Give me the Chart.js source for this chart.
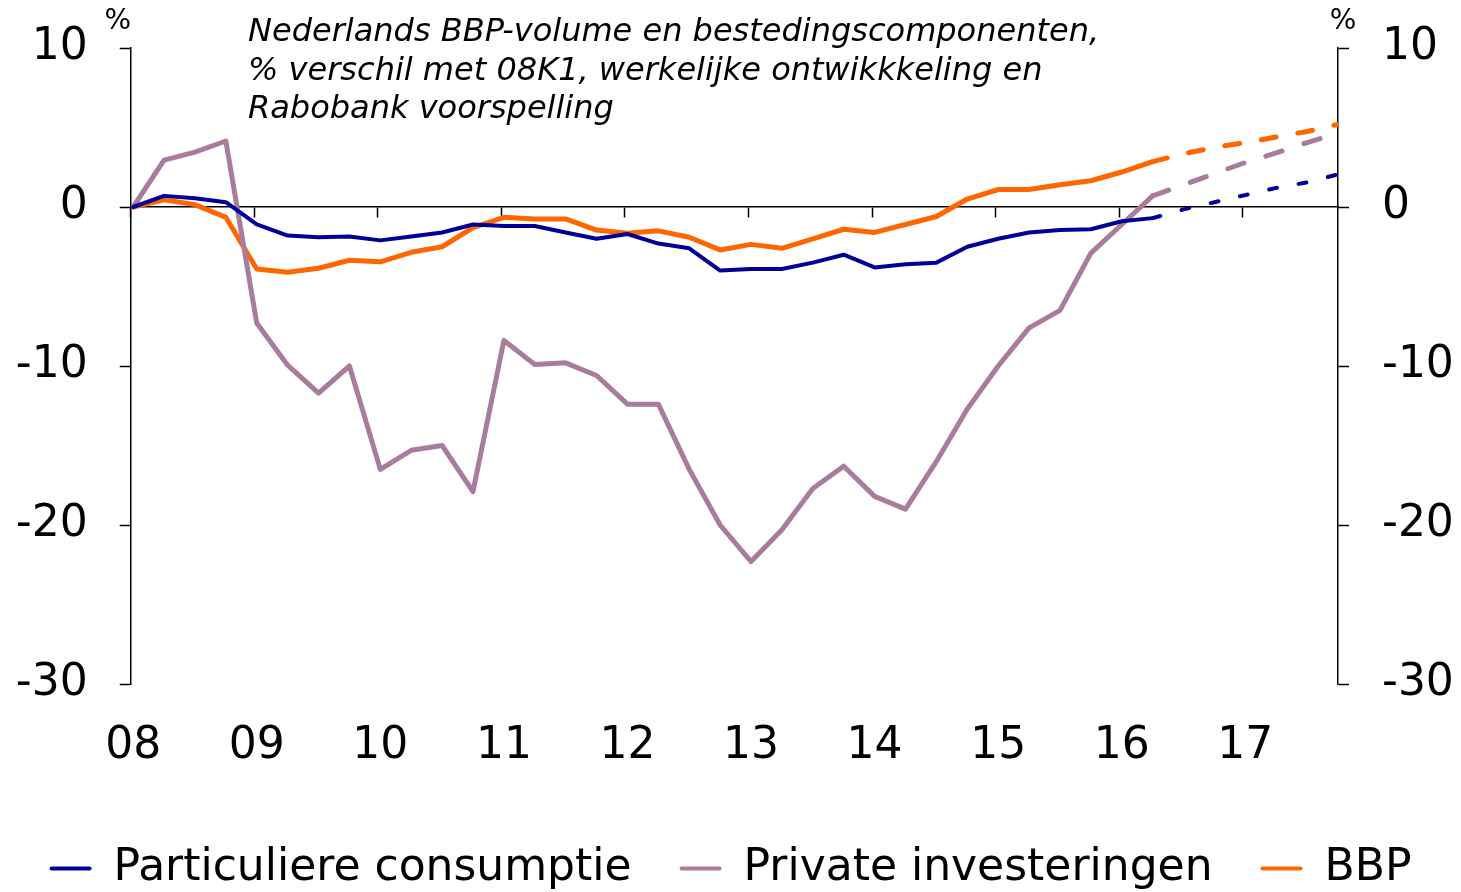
<!DOCTYPE html>
<html>
<head>
<meta charset="utf-8">
<script src="https://cdn.jsdelivr.net/npm/chart.js@4.4.1/dist/chart.umd.min.js"></script>
<style>
  html, body { margin: 0; padding: 0; background: #fff; }
</style>
</head>
<body>
<canvas id="chart" width="1461" height="892"></canvas>
<script>
// quarters 08K1 .. 17K4, actual up to 16K2, Rabobank forecast after that
var quarters = [
  '08K1','08K2','08K3','08K4','09K1','09K2','09K3','09K4',
  '10K1','10K2','10K3','10K4','11K1','11K2','11K3','11K4',
  '12K1','12K2','12K3','12K4','13K1','13K2','13K3','13K4',
  '14K1','14K2','14K3','14K4','15K1','15K2','15K3','15K4',
  '16K1','16K2','16K3','16K4','17K1','17K2','17K3','17K4'
];
var years = ['08','09','10','11','12','13','14','15','16','17'];
var lastActual = '16K2';

var consumptie = [
  0, 0.7, 0.55, 0.3, -1.1, -1.8, -1.9, -1.85,
  -2.1, -1.85, -1.6, -1.1, -1.2, -1.2, -1.6, -2.0,
  -1.7, -2.3, -2.6, -4.0, -3.9, -3.9, -3.5, -3.0,
  -3.8, -3.6, -3.5, -2.5, -2.0, -1.6, -1.45, -1.4,
  -0.9, -0.7, -0.15, 0.3, 0.75, 1.2, 1.55, 2.05
];
var investeringen = [
  0, 2.95, 3.45, 4.15, -7.3, -9.95, -11.7, -10.0,
  -16.5, -15.3, -15.0, -17.9, -8.4, -9.9, -9.8, -10.6,
  -12.4, -12.4, -16.5, -20.0, -22.3, -20.3, -17.7, -16.3,
  -18.2, -19.0, -16.0, -12.7, -10.0, -7.6, -6.5, -2.9,
  -1.1, 0.7, 1.4, 2.1, 2.8, 3.4, 4.05, 4.65
];
var bbp = [
  0, 0.45, 0.15, -0.65, -3.9, -4.1, -3.85, -3.35,
  -3.45, -2.85, -2.5, -1.3, -0.65, -0.75, -0.75, -1.45,
  -1.65, -1.5, -1.9, -2.7, -2.35, -2.6, -2.0, -1.4,
  -1.6, -1.1, -0.6, 0.5, 1.1, 1.1, 1.4, 1.65,
  2.2, 2.85, 3.35, 3.75, 4.05, 4.4, 4.75, 5.2
];

var titleLines = [
  'Nederlands BBP-volume en bestedingscomponenten,',
  '% verschil met 08K1, werkelijke ontwikkkeling en',
  'Rabobank voorspelling'
];
var unit = '%';

var FONT = '"DejaVu Sans", Verdana, sans-serif';
var lastIdx = quarters.indexOf(lastActual);

function series(values) {
  return values.map(function (v, i) { return { x: i, y: v }; });
}

function makeDataset(label, values, color, width, dash) {
  return {
    label: label,
    data: series(values),
    borderColor: color,
    backgroundColor: color,
    borderWidth: width,
    borderCapStyle: 'round',
    borderJoinStyle: 'round',
    pointRadius: 0,
    tension: 0,
    fill: false,
    segment: {
      borderDash: function (ctx) { return ctx.p0DataIndex >= lastIdx ? dash : undefined; }
    }
  };
}

var annotations = {
  id: 'annotations',
  afterDraw: function (chart) {
    var ctx = chart.ctx;
    ctx.save();
    ctx.fillStyle = '#000';
    ctx.textBaseline = 'middle';
    ctx.font = 'italic 32px ' + FONT;
    titleLines.forEach(function (line, i) {
      ctx.fillText(line, 248, 33 + i * 38.5);
    });
    ctx.font = '28px ' + FONT;
    ctx.textAlign = 'center';
    ctx.fillText(unit, chart.chartArea.left - 13, 22);
    ctx.fillText(unit, chart.chartArea.right + 5, 22);
    ctx.restore();
  }
};

var xMin = -0.08, xMax = quarters.length - 1;
// small lineHeight keeps the tick padding from pushing the plot area down
var yAxisCommon = {
  type: 'linear',
  min: -30,
  max: 10,
  ticks: { stepSize: 10, color: '#000', font: { family: FONT, size: 44, lineHeight: 0.4 } },
  grid: { drawOnChartArea: false, tickLength: 11, tickColor: '#000', tickWidth: 1.5 },
  border: { display: true, color: '#000', width: 1.5 }
};

new Chart(document.getElementById('chart'), {
  type: 'line',
  data: {
    datasets: [
      makeDataset('Particuliere consumptie', consumptie, '#000099', 4, [8, 22]),
      makeDataset('Private investeringen', investeringen, '#A97B9D', 5, [17, 23]),
      makeDataset('BBP', bbp, '#FF6600', 5, [15, 22])
    ]
  },
  options: {
    responsive: false,
    animation: false,
    devicePixelRatio: 1,
    layout: { padding: { top: 48, left: 0, right: 0, bottom: -8.5 } },
    plugins: {
      title: { display: false },
      tooltip: { enabled: false },
      legend: {
        position: 'bottom',
        labels: {
          color: '#000',
          font: { family: FONT, size: 44 },
          boxWidth: 42,
          boxHeight: 4,
          padding: 48,
          generateLabels: function (chart) {
            return chart.data.datasets.map(function (ds, i) {
              return {
                text: ds.label,
                fillStyle: ds.borderColor,
                strokeStyle: ds.borderColor,
                lineWidth: 0,
                borderRadius: 2,
                fontColor: '#000',
                datasetIndex: i
              };
            });
          }
        }
      }
    },
    scales: {
      x: {
        type: 'linear',
        position: 'bottom',
        min: xMin,
        max: xMax,
        grid: { display: false },
        border: { display: false },
        ticks: {
          color: '#000',
          font: { family: FONT, size: 44 },
          padding: 28,
          autoSkip: false,
          maxRotation: 0,
          callback: function (v) { return years[Math.round(v / 4)]; }
        },
        afterBuildTicks: function (scale) {
          scale.ticks = years.map(function (y, k) { return { value: k * 4 }; });
        },
        afterFit: function (scale) { scale.height = 114.5; }
      },
      xz: {
        type: 'linear',
        position: { y: 0 },
        min: xMin,
        max: xMax,
        grid: { drawOnChartArea: false, tickLength: 10, tickColor: '#000', tickWidth: 1.5 },
        border: { display: true, color: '#000', width: 1.5 },
        ticks: { display: false },
        afterBuildTicks: function (scale) {
          scale.ticks = years.map(function (y, k) { return { value: k * 4 + xMin }; });
        },
        afterFit: function (scale) { scale.height = 0; }
      },
      y: Object.assign({}, yAxisCommon, {
        position: 'left',
        ticks: Object.assign({}, yAxisCommon.ticks, { padding: 32 }),
        afterFit: function (scale) { scale.width = 130.7; }
      }),
      y2: Object.assign({}, yAxisCommon, {
        position: 'right',
        ticks: Object.assign({}, yAxisCommon.ticks, { padding: 33 }),
        afterFit: function (scale) { scale.width = 123; }
      })
    }
  },
  plugins: [annotations]
});
</script>
</body>
</html>
